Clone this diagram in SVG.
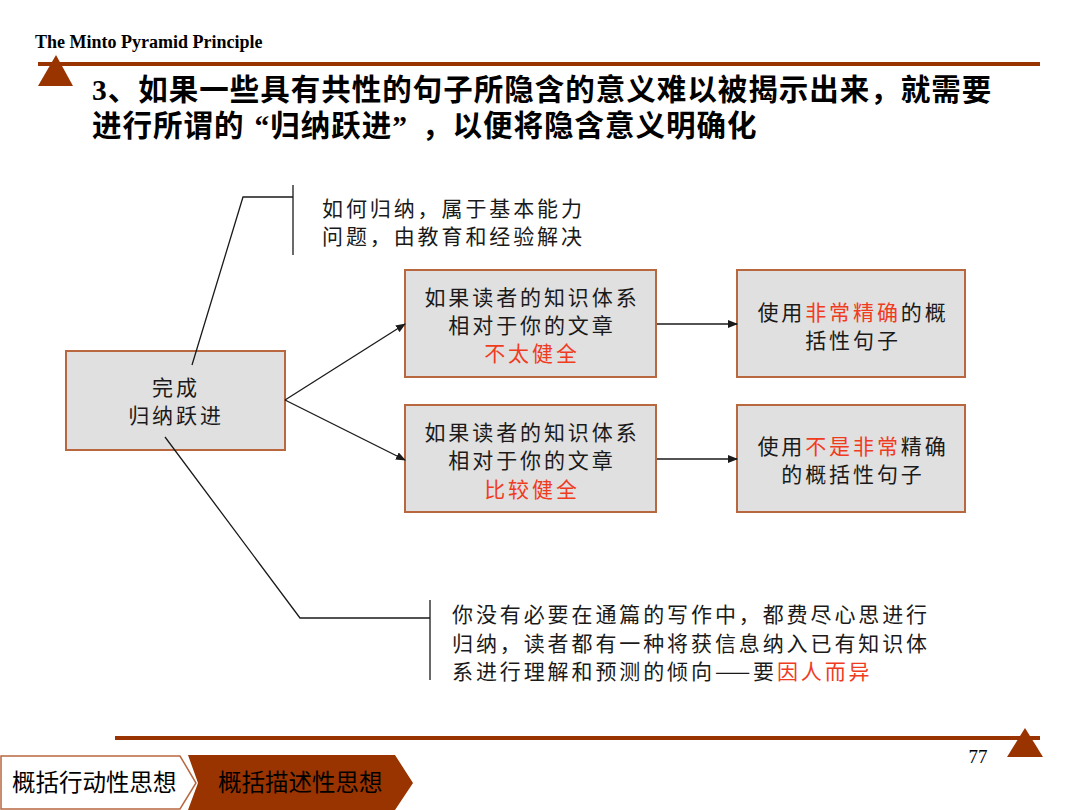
<svg xmlns="http://www.w3.org/2000/svg" width="1080" height="810" viewBox="0 0 1080 810">
<style>
.hdr{font-family:"Liberation Serif",serif;font-weight:bold;font-size:18px;fill:#000}
.ttl{font-family:"Liberation Serif","Noto Sans CJK SC",serif;font-weight:bold;font-size:29.5px;fill:#000;letter-spacing:1px}
.t{font-family:"Noto Sans CJK SC",sans-serif;font-size:21px;fill:#1a1a1a;letter-spacing:2.9px}
.c{text-anchor:middle}
.red{fill:#f03c1e}
.box{fill:#e0e0e0;stroke:#b8673f;stroke-width:2}
.ln{stroke:#1a1a1a;stroke-width:1.3;fill:none}
.brown{fill:#993300}
.tab{font-family:"Noto Sans CJK SC",sans-serif;font-size:23.5px;fill:#000}
</style>
<defs>
<marker id="ah" markerWidth="10" markerHeight="8" refX="9" refY="4" orient="auto" markerUnits="userSpaceOnUse">
<path d="M0,0 L10,4 L0,8 Z" fill="#1a1a1a"/>
</marker>
</defs>
<g id="header">
<text class="hdr" x="35" y="48">The Minto Pyramid Principle</text>
<rect class="brown" x="38" y="62" width="1002" height="4"/>
<polygon class="brown" points="56,55 73,86 38,86"/>
<text class="ttl" x="92" y="100">3、如果一些具有共性的句子所隐含的意义难以被揭示出来，就需要</text>
<text class="ttl" x="92" y="136">进行所谓的<tspan dx="10">“</tspan>归纳跃进”<tspan dx="14">，</tspan>以便将隐含意义明确化</text>
</g>
<g id="note-top">
<text class="t" x="322" y="216">如何归纳，属于基本能力</text>
<text class="t" x="322" y="244">问题，由教育和经验解决</text>
</g>
<g id="node-root">
<rect class="box" x="66" y="351" width="219" height="99"/>
<text class="t c" x="176" y="395">完成</text>
<text class="t c" x="176" y="423">归纳跃进</text>
</g>
<g id="node-a">
<rect class="box" x="405" y="270" width="251" height="107"/>
<text class="t c" x="532" y="305">如果读者的知识体系</text>
<text class="t c" x="532" y="333">相对于你的文章</text>
<text class="t c red" x="532" y="361">不太健全</text>
</g>
<g id="node-b">
<rect class="box" x="405" y="405" width="251" height="107"/>
<text class="t c" x="532" y="440">如果读者的知识体系</text>
<text class="t c" x="532" y="468">相对于你的文章</text>
<text class="t c red" x="532" y="497">比较健全</text>
</g>
<g id="node-c">
<rect class="box" x="737" y="270" width="228" height="107"/>
<text class="t c" x="853" y="320">使用<tspan class="red">非常精确</tspan>的概</text>
<text class="t c" x="853" y="348">括性句子</text>
</g>
<g id="node-d">
<rect class="box" x="737" y="405" width="228" height="107"/>
<text class="t c" x="853" y="454">使用<tspan class="red">不是非常</tspan>精确</text>
<text class="t c" x="853" y="482">的概括性句子</text>
</g>
<g id="note-bottom">
<text class="t" x="452" y="622">你没有必要在通篇的写作中，都费尽心思进行</text>
<text class="t" x="452" y="651">归纳，读者都有一种将获信息纳入已有知识体</text>
<text class="t" x="452" y="679">系进行理解和预测的倾向——要<tspan class="red">因人而异</tspan></text>
</g>
<g id="connectors">
<polyline class="ln" points="192,365 243,197 293,197"/>
<line class="ln" x1="293" y1="185" x2="293" y2="255"/>
<polyline class="ln" points="165,437 300,618 430,618"/>
<line class="ln" x1="430" y1="600" x2="430" y2="680"/>
<line class="ln" x1="285" y1="400" x2="405" y2="324" marker-end="url(#ah)"/>
<line class="ln" x1="285" y1="400" x2="405" y2="460" marker-end="url(#ah)"/>
<line class="ln" x1="657" y1="324" x2="737" y2="324" marker-end="url(#ah)"/>
<line class="ln" x1="657" y1="459" x2="737" y2="459" marker-end="url(#ah)"/>
</g>
<g id="footer">
<rect class="brown" x="115" y="736" width="925" height="4"/>
<polygon class="brown" points="1025,728 1043,757 1007,757"/>
<text x="978" y="763" text-anchor="middle" font-family="Liberation Serif,serif" font-size="19" fill="#000">77</text>
<polygon points="1,756 180,756 196,783 180,809 1,809" fill="#fff" stroke="#b8673f" stroke-width="1.5"/>
<text class="tab" x="12" y="791">概括行动性思想</text>
<polygon class="brown" points="188,755 395,755 413,783 395,810 188,810 198,783"/>
<text class="tab" x="218" y="791">概括描述性思想</text>
</g>
</svg>
